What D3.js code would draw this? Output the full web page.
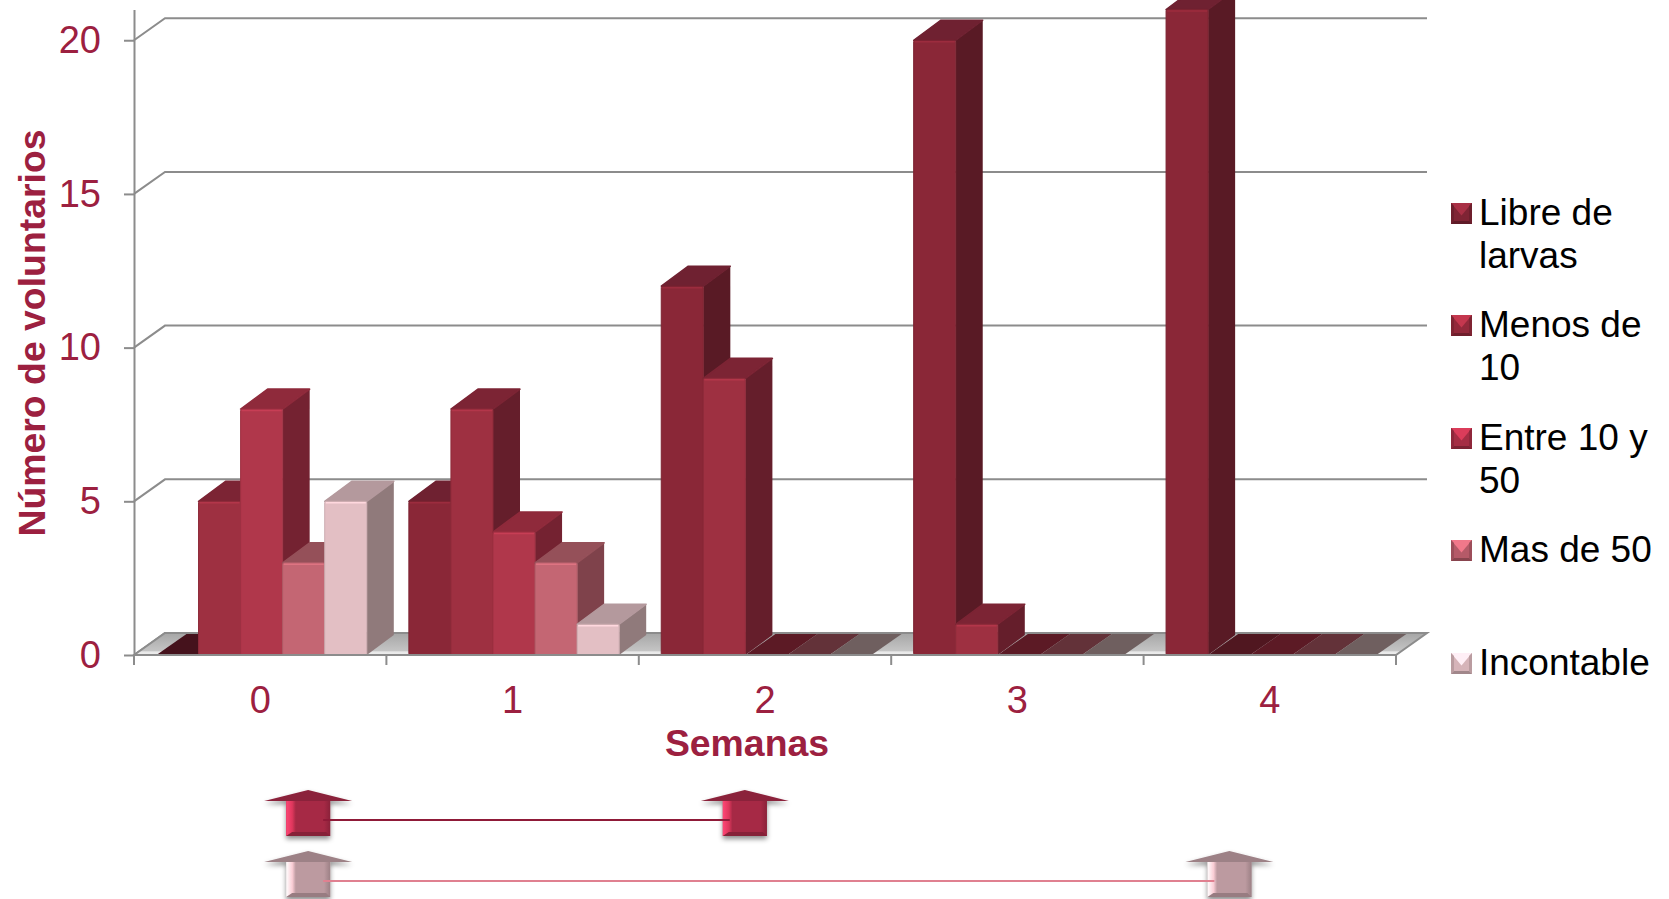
<!DOCTYPE html>
<html>
<head>
<meta charset="utf-8">
<title>Semanas</title>
<script src="https://cdn.jsdelivr.net/npm/d3@7"></script>
<style>
	html, body { margin: 0; padding: 0; background: #fff; overflow: hidden; }
	text { font-family: "Liberation Sans", Arial, sans-serif; }
</style>
</head>
<body>
<svg id="chart" width="1669" height="899"></svg>
<script>
var semanas = ['0', '1', '2', '3', '4'];
var serieNames = ['Libre de larvas', 'Menos de 10', 'Entre 10 y 50', 'Mas de 50', 'Incontable'];
var libre = [0, 5, 12, 20, 21];
var menos = [5, 8, 9, 1, 0];
var entre = [8, 4, 0, 0, 0];
var mas = [3, 3, 0, 0, 0];
var incontable = [5, 1, 0, 0, 0];
var yTicks = [0, 5, 10, 15, 20];
var legendLines = [['Libre de', 'larvas'], ['Menos de', '10'], ['Entre 10 y', '50'], ['Mas de 50'], ['Incontable']];
// arrows under the axis, in week units of the x axis
var dosisA = [0.69, 2.42];
var dosisB = [0.69, 4.34];

var series = [libre, menos, entre, mas, incontable];

var frontColors = ['#8a2737', '#9e3041', '#b0374b', '#c46673', '#e3bfc4'];
var sideColors = ['#591a25', '#651e2b', '#742231', '#7f424b', '#907a7b'];
var topColors = ['#6f2131', '#7c2434', '#8f2a3b', '#955059', '#b4999d'];
var zeroColors = ['#45121c', '#501720', '#5c1a25', '#633239', '#6f5f5f'];
var legendColors = ['#7f2434', '#93293b', '#a52d44', '#b55a68', '#d6b4b9'];

var labelColor = '#9c2040';
var gridColor = '#8c8c8c';
var plotLeft = 134, plotRight = 1396;
var depthX = 31, depthY = 22;
var barDepthX = 27, barDepthY = 20;

var svg = d3.select('#chart');
var defs = svg.append('defs');

var floorGrad = defs.append('linearGradient').attr('id', 'floorGrad')
	.attr('x1', 0).attr('y1', 0).attr('x2', 0).attr('y2', 1);
floorGrad.append('stop').attr('offset', '0%').attr('stop-color', '#a6a6a6');
floorGrad.append('stop').attr('offset', '80%').attr('stop-color', '#c4c4c4');
floorGrad.append('stop').attr('offset', '86%').attr('stop-color', '#e8e8e8');
floorGrad.append('stop').attr('offset', '100%').attr('stop-color', '#eeeeee');

var blur = defs.append('filter').attr('id', 'sombra')
	.attr('x', '-20%').attr('y', '-20%').attr('width', '140%').attr('height', '150%');
blur.append('feDropShadow').attr('dx', 0).attr('dy', 3).attr('stdDeviation', 2.5)
	.attr('flood-color', '#000').attr('flood-opacity', 0.45);

function bevelGradient(id, color) {
	var c = d3.color(color);
	var grad = defs.append('linearGradient').attr('id', id)
		.attr('x1', 0).attr('y1', 0).attr('x2', 1).attr('y2', 0);
	grad.append('stop').attr('offset', '0%').attr('stop-color', c.brighter(1.5));
	grad.append('stop').attr('offset', '14%').attr('stop-color', c.brighter(0.8));
	grad.append('stop').attr('offset', '22%').attr('stop-color', c);
	grad.append('stop').attr('offset', '86%').attr('stop-color', c);
	grad.append('stop').attr('offset', '100%').attr('stop-color', c.darker(0.5));
}

var x = d3.scaleBand().domain(semanas).range([plotLeft, plotRight]);
var barsStart = x.bandwidth() * 0.089;
var inner = d3.scaleBand().domain(d3.range(series.length))
	.range([barsStart, barsStart + x.bandwidth() * 5 / 6]);
var y = d3.scaleLinear().domain([0, 21]).range([655, 9.5]);
var xWeeks = d3.scaleLinear().domain([0, semanas.length]).range(x.range());

function poly(points) {
	return points.map(function(p) { return p.join(','); }).join(' ');
}

/* Back wall grid and floor */
var wall = svg.append('g');
yTicks.forEach(function(t) {
	wall.append('polyline')
		.attr('points', poly([[plotLeft, y(t)], [plotLeft + depthX, y(t) - depthY], [plotRight + depthX, y(t) - depthY]]))
		.attr('fill', 'none')
		.attr('stroke', gridColor)
		.attr('stroke-width', 2);
});
wall.append('polygon')
	.attr('points', poly([[plotLeft, y(0)], [plotLeft + depthX, y(0) - depthY], [plotRight + depthX, y(0) - depthY], [plotRight, y(0)]]))
	.attr('fill', 'url(#floorGrad)')
	.attr('stroke', gridColor)
	.attr('stroke-width', 2);

/* Bars, left to right so each front hides the side of the one before */
var bars = svg.append('g');
semanas.forEach(function(week, w) {
	series.forEach(function(values, s) {
		var v = values[w];
		var x0 = x(week) + inner(s);
		var x1 = x0 + inner.bandwidth();
		var yTop = y(v);
		var yBase = y(0);
		var g = bars.append('g');

		if (v === 0) {
			g.append('polygon')
				.attr('points', poly([[x0, yBase], [x1, yBase], [x1 + depthX - 1, yBase - depthY + 1], [x0 + depthX - 1, yBase - depthY + 1]]))
				.attr('fill', zeroColors[s]);
			return;
		}
		g.append('polygon')
			.attr('points', poly([[x1, yTop], [x1 + barDepthX, yTop - barDepthY], [x1 + barDepthX, yBase - barDepthY], [x1, yBase]]))
			.attr('fill', sideColors[s]);
		g.append('polygon')
			.attr('points', poly([[x0, yTop], [x1, yTop], [x1 + barDepthX, yTop - barDepthY], [x0 + barDepthX, yTop - barDepthY]]))
			.attr('fill', topColors[s])
			.attr('stroke', topColors[s])
			.attr('stroke-width', 1.5)
			.attr('stroke-linejoin', 'round');
		g.append('rect')
			.attr('x', x0).attr('y', yTop)
			.attr('rx', 1.5)
			.attr('width', x1 - x0).attr('height', yBase - yTop)
			.attr('fill', frontColors[s])
			.attr('stroke', d3.color(frontColors[s]).darker(0.3))
			.attr('stroke-width', 1);
		// light line along the top of the front face
		g.append('line')
			.attr('x1', x0 + 1).attr('x2', x1 - 1)
			.attr('y1', yTop + 1.5).attr('y2', yTop + 1.5)
			.attr('stroke', d3.color(frontColors[s]).brighter(0.35))
			.attr('stroke-width', 1.5);
	});
});

/* Axes */
var axisLeft = d3.axisLeft(y).tickValues(yTicks).tickSize(10).tickSizeOuter(0).tickPadding(23);
var gy = svg.append('g').attr('transform', 'translate(' + plotLeft + ',0)').call(axisLeft);
gy.selectAll('path, line').attr('stroke', gridColor).attr('stroke-width', 2);
gy.selectAll('text').attr('fill', labelColor).style('font-size', '38px');

var axisBottom = d3.axisBottom(x).tickSize(0).tickPadding(31);
var gx = svg.append('g').attr('transform', 'translate(0,' + y(0) + ')').call(axisBottom);
gx.select('path').attr('stroke', gridColor).attr('stroke-width', 2).attr('d', 'M' + plotLeft + ',0H' + plotRight);
gx.selectAll('text').attr('fill', labelColor).style('font-size', '38px');
xWeeks.ticks(semanas.length).forEach(function(t) {
	gx.append('line')
		.attr('x1', xWeeks(t)).attr('x2', xWeeks(t))
		.attr('y1', 0).attr('y2', 10)
		.attr('stroke', gridColor)
		.attr('stroke-width', 2);
});

/* Axis titles */
svg.append('text')
	.attr('transform', 'translate(45,333) rotate(-90)')
	.attr('text-anchor', 'middle')
	.attr('fill', labelColor)
	.style('font-size', '37.4px')
	.style('font-weight', 'bold')
	.text('Número de voluntarios');
svg.append('text')
	.attr('x', 747).attr('y', 756)
	.attr('text-anchor', 'middle')
	.attr('fill', labelColor)
	.style('font-size', '37.4px')
	.style('font-weight', 'bold')
	.text('Semanas');

/* Legend */
var legendTop = [225, 337, 450, 562, 675];
legendLines.forEach(function(lines, i) {
	var base = legendTop[i];
	var sx = 1451, sy = base - 22, size = 21;
	var c = d3.color(legendColors[i]);
	var g = svg.append('g');
	g.append('rect').attr('x', sx).attr('y', sy).attr('width', size).attr('height', size).attr('fill', c);
	g.append('polygon')
		.attr('points', poly([[sx, sy], [sx + size, sy], [sx + size / 2, sy + size * 0.6]]))
		.attr('fill', c.brighter(0.8));
	g.append('polygon')
		.attr('points', poly([[sx, sy], [sx + 3, sy + 3], [sx + 3, sy + size - 3], [sx, sy + size]]))
		.attr('fill', c.darker(0.4));
	g.append('polygon')
		.attr('points', poly([[sx + size, sy], [sx + size - 3, sy + 3], [sx + size - 3, sy + size - 3], [sx + size, sy + size]]))
		.attr('fill', c.darker(0.4));
	g.append('polygon')
		.attr('points', poly([[sx, sy + size], [sx + 3, sy + size - 3], [sx + size - 3, sy + size - 3], [sx + size, sy + size]]))
		.attr('fill', c.darker(0.8));
	lines.forEach(function(line, n) {
		svg.append('text')
			.attr('x', 1479).attr('y', base + n * 43)
			.attr('fill', '#000')
			.style('font-size', '37px')
			.text(line);
	});
});

/* Treatment arrows */
function drawArrow(cx, top, color, gradId) {
	var c = d3.color(color);
	var g = svg.append('g');
	var headY = top + 11, bottom = top + 46;
	g.append('polygon')
		.attr('points', poly([[cx, top], [cx + 44, headY], [cx + 22, headY], [cx + 22, bottom], [cx - 22, bottom], [cx - 22, headY], [cx - 44, headY]]))
		.attr('fill', c.darker(0.5))
		.attr('filter', 'url(#sombra)');
	g.append('rect')
		.attr('x', cx - 22).attr('y', headY)
		.attr('width', 44).attr('height', bottom - headY)
		.attr('fill', 'url(#' + gradId + ')');
	g.append('polygon')
		.attr('points', poly([[cx - 22, bottom], [cx - 16, bottom - 4], [cx + 18, bottom - 4], [cx + 22, bottom]]))
		.attr('fill', c.darker(0.6));
}

function drawDoseRow(dosis, top, arrowColor, lineColor, gradId) {
	bevelGradient(gradId, arrowColor);
	dosis.forEach(function(d) { drawArrow(xWeeks(d), top, arrowColor, gradId); });
	svg.append('line')
		.attr('x1', xWeeks(dosis[0]) + 15).attr('x2', xWeeks(dosis[1]) - 15)
		.attr('y1', top + 30).attr('y2', top + 30)
		.attr('stroke', lineColor)
		.attr('stroke-width', 2);
}

drawDoseRow(dosisA, 790, '#a62945', '#8f1a38', 'flechaA');
drawDoseRow(dosisB, 851, '#bc9aa0', '#e08090', 'flechaB');
</script>
</body>
</html>
